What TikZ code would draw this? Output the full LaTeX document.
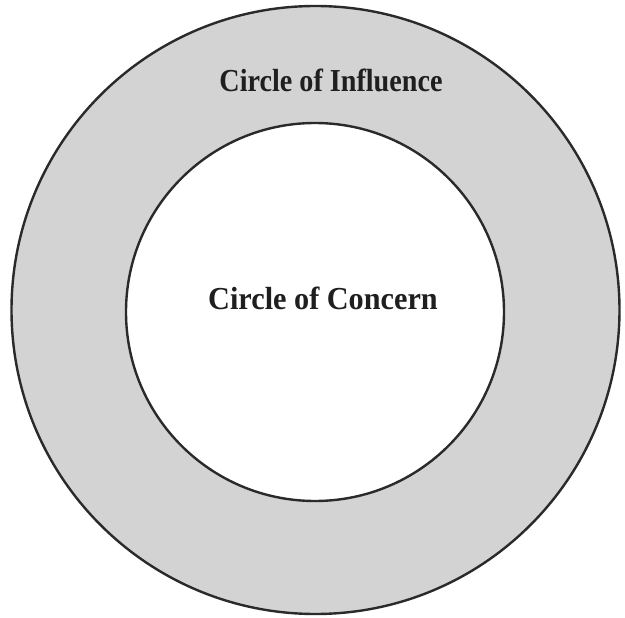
\documentclass[tikz,border=0pt]{standalone}
\usepackage{fontspec}
\setmainfont{Liberation Serif}
\definecolor{ringgray}{HTML}{D3D3D3}
\definecolor{ringline}{HTML}{2A2A2A}
\begin{document}
\begin{tikzpicture}[x=1pt,y=-1pt,
  ring/.style={circle, line width=2.4pt, draw=ringline, inner sep=0pt},
  lbl/.style={font=\bfseries\fontsize{32}{36}\selectfont, anchor=base, inner sep=0pt, text=black!88}]
\useasboundingbox (0,0) rectangle (625,618);
\fill[white] (0,0) rectangle (625,618);
\node[ring, fill=ringgray, minimum size=608pt] (outer) at (315.5,310) {};
\node[ring, fill=white, minimum size=378pt] (inner) at (315,312) {};
\node[lbl] (influence) at (331,92) {\scalebox{0.88}[1]{Circle of Influence}};
\node[lbl] (concern) at (323,309) {\scalebox{0.945}[1]{Circle of Concern}};
\end{tikzpicture}
\end{document}
